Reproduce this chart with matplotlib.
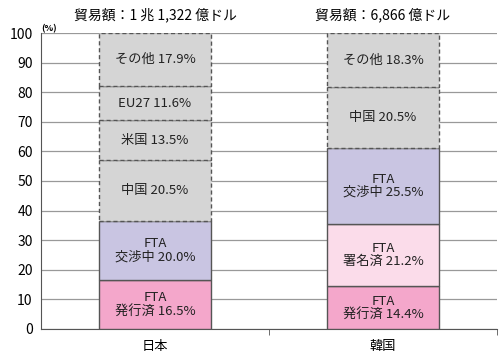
import matplotlib
matplotlib.use("Agg")
import matplotlib.pyplot as plt

plt.rcParams['font.family'] = ['Noto Sans CJK JP', 'DejaVu Sans']

countries = ["日本", "韓国"]
totals = ["貿易額：1 兆 1,322 億ドル", "貿易額：6,866 億ドル"]
japan_labels = ["FTA\n発行済 16.5%", "FTA\n交渉中 20.0%", "中国 20.5%", "米国 13.5%", "EU27 11.6%", "その他 17.9%"]
japan_values = [16.5, 20.0, 20.5, 13.5, 11.6, 17.9]
japan_kinds = ["effect", "nego", "other", "other", "other", "other"]
korea_labels = ["FTA\n発行済 14.4%", "FTA\n署名済 21.2%", "FTA\n交渉中 25.5%", "中国 20.5%", "その他 18.3%"]
korea_values = [14.4, 21.2, 25.5, 20.5, 18.3]
korea_kinds = ["effect", "signed", "nego", "other", "other"]

colors = {"effect": "#f4a7cb", "signed": "#fbdcea", "nego": "#c9c5e2", "other": "#d5d5d5"}

fig = plt.figure(figsize=(5, 3.63), dpi=100)
ax = fig.add_axes([0.082, 0.094, 0.912, 0.815])

width = 0.49
for xi, (labels, values, kinds) in enumerate([(japan_labels, japan_values, japan_kinds),
                                               (korea_labels, korea_values, korea_kinds)]):
    bottom = 0
    for lab, v, k in zip(labels, values, kinds):
        dashed = (k == "other")
        ax.bar(xi, v, width, bottom=bottom, color=colors[k], edgecolor="#555555",
               linewidth=1.0, linestyle=(0, (3, 2)) if dashed else "-", zorder=3)
        ax.text(xi, bottom + v / 2, lab, ha="center", va="center", fontsize=9.5,
                linespacing=1.0, color="#222222", zorder=4)
        bottom += v

for xi, t in enumerate(totals):
    ax.text(xi, 103.5, t, ha="center", va="bottom", fontsize=10, clip_on=False)

ax.set_xlim(-0.5, 1.5)
ax.set_ylim(0, 100)
ax.set_yticks(range(0, 101, 10))
ax.yaxis.grid(True, color="#999999", linewidth=0.9, zorder=0)
ax.set_axisbelow(True)
ax.tick_params(axis="y", length=0, labelsize=10, pad=6)
ax.set_xticks([0, 1])
ax.set_xticklabels(countries, fontsize=9.5)
ax.tick_params(axis="x", length=0, pad=8)
ax.set_xticks([0.5, 1.5], minor=True)
ax.tick_params(axis="x", which="minor", length=4, direction="out", color="#555555")
for s in ["top", "right"]:
    ax.spines[s].set_visible(False)
ax.spines["left"].set_color("#555555")
ax.spines["bottom"].set_color("#555555")
ax.text(-0.5, 100, "(%)", fontsize=6.5, fontweight="bold", ha="left", va="bottom",
        transform=ax.transData, clip_on=False)

fig.savefig("out.png", dpi=100)
